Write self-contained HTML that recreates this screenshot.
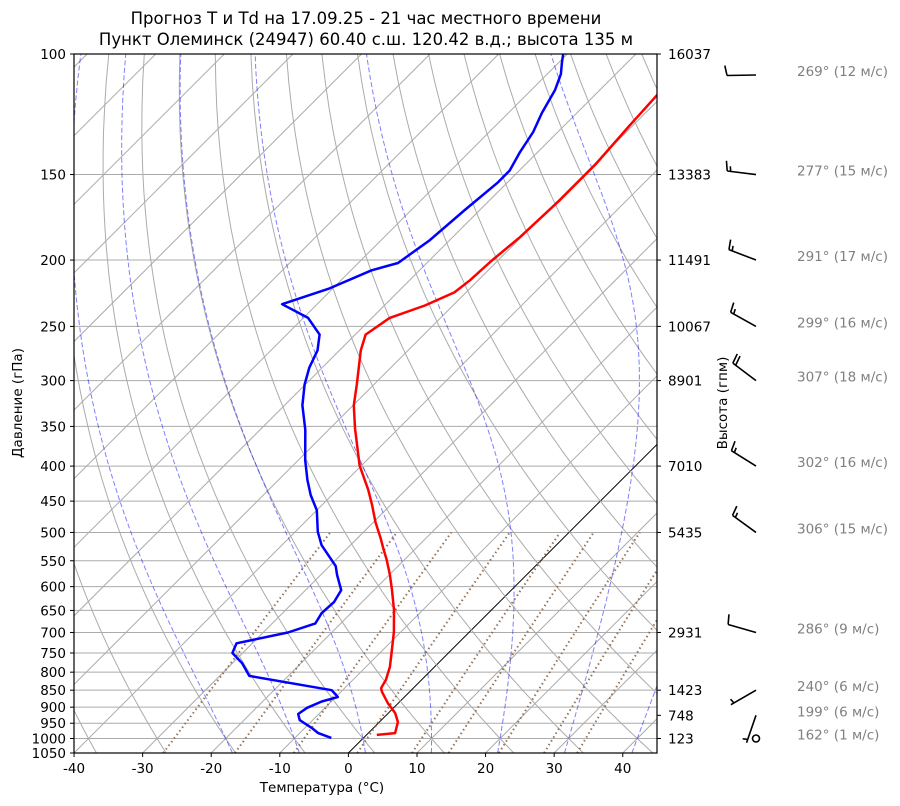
<!DOCTYPE html>
<html><head><meta charset="utf-8"><style>
body{margin:0;background:#fff}
svg{display:block;font-family:"DejaVu Sans","Liberation Sans",sans-serif}
</style></head><body>
<svg id="chart" width="900" height="806" viewBox="0 0 900 806">
<text x="366" y="24" font-size="16.5" text-anchor="middle">Прогноз T и Td на 17.09.25 - 21 час местного времени</text>
<text x="366" y="45" font-size="16.5" text-anchor="middle">Пункт Олеминск (24947) 60.40 с.ш. 120.42 в.д.; высота 135 м</text>
<defs><clipPath id="plotclip"><rect x="74" y="54" width="583" height="699"/></clipPath></defs>
<g id="grid" clip-path="url(#plotclip)"></g>
<g id="profiles" clip-path="url(#plotclip)"></g>
<rect x="74" y="54" width="583" height="699" fill="none" stroke="#000" stroke-width="1.2"/>
<g id="axes" font-size="13.5"></g>
<text x="322" y="792" font-size="13.5" text-anchor="middle">Температура (°C)</text>
<text transform="translate(22,403) rotate(-90)" font-size="13.5" text-anchor="middle">Давление (гПа)</text>
<text transform="translate(727,403) rotate(-90)" font-size="13.5" text-anchor="middle">Высота (гпм)</text>
<g id="winds"></g>
</svg>
<script>
// ---- data ----
const tempP = [988,982,946,918,888,855,844,821,786,742,699,649,607,577,549,527,509,483,456,433,415,399,376,352,326,304,287,271,257,243,233,223,214,201,185,164,145,127,115,100];
const tempT = [1.5,3.9,2.7,1.0,-1.5,-4.0,-4.7,-5.2,-6.5,-8.7,-11.0,-14.2,-17.4,-19.9,-22.5,-24.8,-26.7,-29.7,-32.7,-35.5,-38.0,-40.3,-43.2,-46.4,-49.9,-52.5,-54.7,-56.9,-58.5,-57.4,-54.1,-51.7,-51.2,-50.9,-50.2,-49.8,-49.8,-50.5,-50.9,-51.0];
const dewP = [998,982,967,940,921,902,883,870,850,810,776,750,726,700,679,656,632,607,577,560,522,499,464,441,419,392,354,326,304,287,271,257,243,232,220,207,202,187,169,154,148,139,130,122,113,107,103,100];
const dewT = [-4.7,-7.3,-8.8,-11.9,-13.0,-12.6,-11.4,-9.7,-11.6,-25.7,-28.6,-31.5,-32.3,-26.4,-23.7,-24.3,-24.1,-24.8,-27.6,-29.1,-34.2,-36.7,-40.0,-43.1,-45.8,-49.0,-53.4,-57.4,-60.1,-61.9,-63.2,-65.2,-69.3,-75.1,-70.5,-67.0,-64.2,-62.9,-62.2,-61.4,-61.4,-62.6,-63.6,-65.1,-66.5,-68.0,-69.5,-70.6];
const pTicks = [100,150,200,250,300,350,400,450,500,550,600,650,700,750,800,850,900,950,1000,1050];
const tTicks = [-40,-30,-20,-10,0,10,20,30,40];
const hgtP = [100,150,200,250,300,400,500,700,850,925,1000];
const hgtLabels = ["16037","13383","11491","10067","8901","7010","5435","2931","1423","748","123"];
const windP = [100,150,200,250,300,400,500,700,850,925,1000];
const windDir = [269,277,291,299,307,302,306,286,240,199,162];
const windSpd = [12,15,17,16,18,16,15,9,6,6,1];
const mixW = [0.0004,0.001,0.002,0.004,0.007,0.01,0.016,0.024,0.032];
const moistT0 = [-20,-10,0,10,20,30,40];

// ---- axes functions ----
const NS="http://www.w3.org/2000/svg";
function yP(p){return 54+699*Math.log(p/100)/Math.log(10.5);}
function xT(T,p){return 348.4+6.859*T+(753-yP(p));}
function mk(tag,attrs,parent){const e=document.createElementNS(NS,tag);for(const k in attrs)e.setAttribute(k,attrs[k]);parent.appendChild(e);return e;}
const grid=document.getElementById('grid'),prof=document.getElementById('profiles'),axes=document.getElementById('axes'),winds=document.getElementById('winds');
function pathFrom(pts){return pts.map((q,i)=>(i?'L':'M')+q[0].toFixed(1)+','+q[1].toFixed(1)).join('');}

pTicks.forEach(p=>{
  const l=mk('line',{x1:74,x2:657,y1:yP(p),y2:yP(p),stroke:'#ababab','stroke-width':1},grid);
  
  
});
for(let T=-170;T<=50;T+=10){
  const l=mk('line',{x1:xT(T,1050),y1:yP(1050),x2:xT(T,100),y2:yP(100),stroke:T===0?'#000':'#ababab','stroke-width':1},grid);
  
  
}
const pLev=[];for(let p=1050;p>=100;p-=10)pLev.push(p);
for(let th=-40;th<=210;th+=10){
  const TK=th+273.15;
  const pts=pLev.map(p=>[xT(TK*Math.pow(p/1000,0.2857)-273.15,p),yP(p)]);
  const e=mk('path',{d:pathFrom(pts),fill:'none',stroke:'#ababab','stroke-width':1},grid);
  
  
}
function es(TK){const t=TK-273.15;return 6.112*Math.exp(17.67*t/(t+243.5));}
function dTdp(p,T){const e=es(T);const rs=0.622*e/Math.max(p-e,1e-3);const Rd=287.04,Cp=1005.7,Lv=2.501e6;
  return (Rd*T+Lv*rs)/(p*(Cp+Lv*Lv*rs*0.622/(Rd*T*T)));}
function integ(T0,p0,p1,step){const out=[[p0,T0]];let T=T0,p=p0;const n=Math.round(Math.abs(p1-p0)/step),h=(p1-p0)/n;
  for(let i=0;i<n;i++){const k1=dTdp(p,T),k2=dTdp(p+h/2,T+h/2*k1),k3=dTdp(p+h/2,T+h/2*k2),k4=dTdp(p+h,T+h*k3);T+=h/6*(k1+2*k2+2*k3+k4);p+=h;out.push([p,T]);}return out;}
moistT0.forEach(t0=>{
  const up=integ(t0+273.15,1000,100,2),dn=integ(t0+273.15,1000,1050,2);
  const all=dn.reverse().concat(up.slice(1));
  const pts=all.map(q=>[xT(q[1]-273.15,q[0]),yP(q[0])]);
  const e=mk('path',{d:pathFrom(pts),fill:'none',stroke:'rgba(0,0,255,0.5)','stroke-width':1,'stroke-dasharray':'5,2.5'},grid);
  
  
});
mixW.forEach(w=>{
  const pts=[];for(let p=1050;p>=500;p-=10){const e=w*p/(0.622+w);const l=Math.log(e/6.112);const td=243.5*l/(17.67-l);pts.push([xT(td,p),yP(p)]);}
  const e=mk('path',{d:pathFrom(pts),fill:'none',stroke:'#8c6446','stroke-width':2,'stroke-dasharray':'1.5,3','opacity':0.9},grid);
  
  
});
const tPath=mk('path',{d:pathFrom(tempP.map((p,i)=>[xT(tempT[i],p),yP(p)])),fill:'none',stroke:'#ff0000','stroke-width':2.5,'stroke-linejoin':'round'},prof);


const dPath=mk('path',{d:pathFrom(dewP.map((p,i)=>[xT(dewT[i],p),yP(p)])),fill:'none',stroke:'#0000ff','stroke-width':2.5,'stroke-linejoin':'round'},prof);


pTicks.forEach(p=>{
  const y=yP(p);
  mk('line',{x1:70,x2:74,y1:y,y2:y,stroke:'#000'},axes);
  const t=mk('text',{x:66,y:y+5,'text-anchor':'end'},axes);t.textContent=p;
  
  
});
tTicks.forEach(T=>{
  const x=348.4+6.859*T;
  mk('line',{x1:x,x2:x,y1:753,y2:757,stroke:'#000'},axes);
  const t=mk('text',{x:x,y:773,'text-anchor':'middle'},axes);t.textContent=T;
  
  
});
hgtP.forEach((p,i)=>{
  const y=yP(p);
  mk('line',{x1:657,x2:661,y1:y,y2:y,stroke:'#000'},axes);
  const t=mk('text',{x:668,y:y+5},axes);t.textContent=hgtLabels[i];
  
  
});
windP.forEach((p,i)=>{
  const y=Math.max(yP(p),75),x=756,d=windDir[i]*Math.PI/180,s=windSpd[i];
  const g=mk('g',{stroke:'#000','stroke-width':1.6,fill:'none'},winds);
  
  
  const n=Math.round(s/5);
  if(n===0){mk('circle',{cx:x,cy:y,r:3.5},g);}
  else{
    const ux=Math.sin(d),uy=-Math.cos(d),L=29;
    const tx=x+ux*L,ty=y+uy*L;
    mk('line',{x1:x,y1:y,x2:tx,y2:ty},g);
    const bx=-uy,by=ux;
    let full=Math.floor(n/2),half=n%2,k=0;
    for(let f=0;f<full;f++,k++){const px=tx-ux*3.5*k,py=ty-uy*3.5*k;mk('line',{x1:px,y1:py,x2:px+bx*10+ux*2,y2:py+by*10+uy*2},g);}
    if(half){if(k===0)k=1;const px=tx-ux*3.5*k,py=ty-uy*3.5*k;mk('line',{x1:px,y1:py,x2:px+bx*5+ux*1,y2:py+by*5+uy*1},g);}
  }
  const t=mk('text',{x:797,y:y+1,'font-size':13.5,fill:'#808080'},winds);
  t.textContent=windDir[i]+'° ('+s+' м/с)';
  
  
});
</script>
</body></html>
